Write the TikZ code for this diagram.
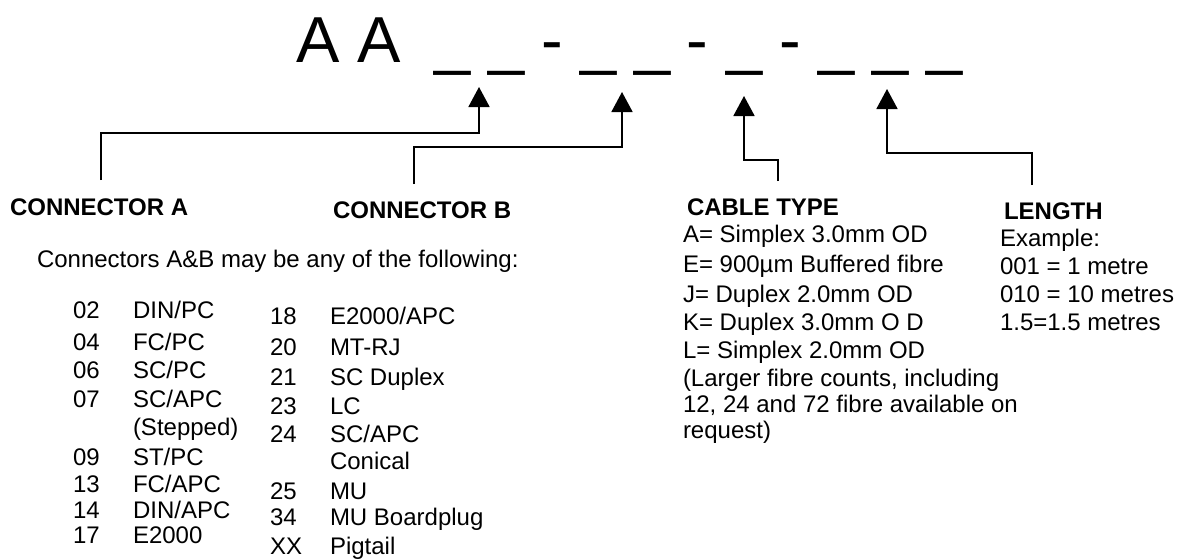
\documentclass[tikz,border=0pt]{standalone}
\usepackage{fontspec}
\setmainfont{Liberation Sans}
\usetikzlibrary{arrows.meta}
\begin{document}
\begin{tikzpicture}[x=1pt,y=-1pt,
  every node/.style={inner sep=0pt,outer sep=0pt,anchor=base west},
  big/.style={font=\fontsize{65}{70}\selectfont},
  txt/.style={font=\fontsize{24}{28}\selectfont},
  head/.style={font=\fontsize{24}{28}\selectfont\bfseries},
  conn/.style={line width=1.8pt,-{Triangle[width=21pt,length=20pt]}}]
\useasboundingbox (0,0) rectangle (1181,558);
% title
\node[big] (tA) at (296,62) {A A};
\node[big] (u1) at (434,62) {\_ \_};
\node[big] (h1) at (541,62) {-};
\node[big] (u2) at (580,62) {\_ \_};
\node[big] (h2) at (686,62) {-};
\node[big] (u3) at (726,62) {\_};
\node[big] (h3) at (779,62) {-};
\node[big] (u4) at (818,62) {\_ \_ \_};
% headings
\node[head] (ca) at (10,215) {CONNECTOR A};
\node[head] (cb) at (333,218) {CONNECTOR B};
\node[head] (ct) at (687,215) {CABLE TYPE};
\node[head] (ln) at (1004,219) {LENGTH};
% connector coordinates
\coordinate (aS) at (101,180); \coordinate (aT) at (479,87);
\coordinate (bS) at (414,184); \coordinate (bT) at (622,92);
\coordinate (cS) at (778,181); \coordinate (cT) at (744,96);
\coordinate (dS) at (1032,185); \coordinate (dT) at (887,89);
\draw[conn] (aS) |- (479,133) -- (aT);
\draw[conn] (bS) |- (622,147) -- (bT);
\draw[conn] (cS) |- (744,160) -- (cT);
\draw[conn] (dS) |- (887,153) -- (dT);
% connectors text
\node[txt] (intro) at (37,267) {Connectors A\&B may be any of the following:};
\node[txt] (n02) at (73,318) {02}; \node[txt] (m02) at (133,318) {DIN/PC};
\node[txt] (n04) at (73,350) {04}; \node[txt] (m04) at (133,350) {FC/PC};
\node[txt] (n06) at (73,378) {06}; \node[txt] (m06) at (133,378) {SC/PC};
\node[txt] (n07) at (73,407) {07}; \node[txt] (m07) at (133,407) {SC/APC};
\node[txt] (m07b) at (133,435) {(Stepped)};
\node[txt] (n09) at (73,465) {09}; \node[txt] (m09) at (133,465) {ST/PC};
\node[txt] (n13) at (73,492) {13}; \node[txt] (m13) at (133,492) {FC/APC};
\node[txt] (n14) at (73,518) {14}; \node[txt] (m14) at (133,518) {DIN/APC};
\node[txt] (n17) at (73,543) {17}; \node[txt] (m17) at (133,543) {E2000};
\node[txt] (n18) at (270,324) {18}; \node[txt] (m18) at (330,324) {E2000/APC};
\node[txt] (n20) at (270,355) {20}; \node[txt] (m20) at (330,355) {MT-RJ};
\node[txt] (n21) at (270,385) {21}; \node[txt] (m21) at (330,385) {SC Duplex};
\node[txt] (n23) at (270,414) {23}; \node[txt] (m23) at (330,414) {LC};
\node[txt] (n24) at (270,442) {24}; \node[txt] (m24) at (330,442) {SC/APC};
\node[txt] (m24b) at (330,469) {Conical};
\node[txt] (n25) at (270,499) {25}; \node[txt] (m25) at (330,499) {MU};
\node[txt] (n34) at (270,525) {34}; \node[txt] (m34) at (330,525) {MU Boardplug};
\node[txt] (nXX) at (270,554) {XX}; \node[txt] (mXX) at (330,554) {Pigtail};
% cable type
\node[txt] (c1) at (683,242) {A= Simplex 3.0mm OD};
\node[txt] (c2) at (683,272) {E= 900µm Buffered fibre};
\node[txt] (c3) at (683,302) {J= Duplex 2.0mm OD};
\node[txt] (c4) at (683,330) {K= Duplex 3.0mm O D};
\node[txt] (c5) at (683,358) {L= Simplex 2.0mm OD};
\node[txt] (c6) at (683,386) {(Larger fibre counts, including};
\node[txt] (c7) at (683,412) {12, 24 and 72 fibre available on};
\node[txt] (c8) at (683,438) {request)};
% length
\node[txt] (l1) at (1000,246) {Example:};
\node[txt] (l2) at (1000,274) {001 = 1 metre};
\node[txt] (l3) at (1000,302) {010 = 10 metres};
\node[txt] (l4) at (1000,330) {1.5=1.5 metres};
\end{tikzpicture}
\end{document}
